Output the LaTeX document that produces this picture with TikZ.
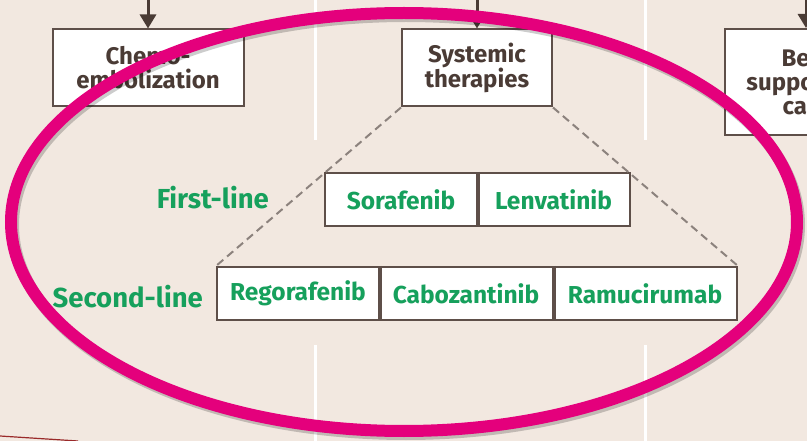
\documentclass[tikz,border=0pt]{standalone}
\usepackage{fontspec}
\setmainfont{Fira Sans}
\usetikzlibrary{arrows.meta}
\definecolor{bgc}{HTML}{F2E8E0}
\definecolor{boxline}{HTML}{5E4F49}
\definecolor{boxtext}{HTML}{4A3B35}
\definecolor{drug}{HTML}{16A05C}
\definecolor{dashc}{HTML}{8C827D}
\definecolor{pinkc}{HTML}{E4007C}
\definecolor{darkred}{HTML}{9A2A2A}
\tikzset{
  mainbox/.style={draw=boxline, line width=2pt, fill=white, inner sep=0pt, align=center,
    text=boxtext, font=\fontsize{24}{24}\selectfont\bfseries},
  drugbox/.style={draw=boxline, line width=2pt, fill=white, inner sep=0pt,
    minimum height=53pt, text=drug, font=\fontsize{24.5}{26}\selectfont\bfseries},
  linelabel/.style={anchor=east, inner sep=0pt, text=drug, font=\fontsize{27.5}{29}\selectfont\bfseries},
  divider/.style={draw=boxline, line width=3.5pt},
  feed/.style={draw=boxtext, line width=3pt, -{Triangle[length=14pt,width=16pt]}},
  dashline/.style={draw=dashc, line width=2pt, dash pattern=on 8pt off 5pt},
  sep/.style={draw=white, line width=3pt},
}
\begin{document}
\begin{tikzpicture}[x=1pt,y=-1pt]
\useasboundingbox (0,0) rectangle (807,441);
\fill[bgc] (0,0) rectangle (807,441);
% column separators
\draw[sep] (315,0) -- (315,140);
\draw[sep] (315,345) -- (315,441);
\draw[sep] (645,0) -- (645,140);
\draw[sep] (645,345) -- (645,441);
\draw[darkred, line width=1.2pt] (0,436) -- (78,441);
% top boxes
\node[mainbox, minimum width=191pt, minimum height=77pt] (chemo) at (148,68) {Chemo-\\embolization};
\node[mainbox, minimum width=150pt, minimum height=77pt] (sys) at (477,68) {Systemic\\therapies};
\node[mainbox, minimum width=162pt, minimum height=106pt] (bsc) at (806,82) {Best\\supportive\\care};
\coordinate (a1) at (148,0);
\coordinate (a2) at (477,0);
\coordinate (a3) at (806,0);
\draw[feed] (a1) -- (chemo.north);
\draw[feed] (a2) -- (sys.north);
\draw[feed] (a3) -- (bsc.north);
% drug boxes
\node[drugbox, minimum width=152pt] (sor) at (401,199.5) {Sorafenib};
\node[drugbox, minimum width=153pt] (len) at (553.5,199.5) {Lenvatinib};
\node[drugbox, minimum width=162pt] (reg) at (298,293.5) {Regorafenib};
\node[drugbox, minimum width=174pt] (cab) at (466,293.5) {Cabozantinib};
\node[drugbox, minimum width=184pt] (ram) at (645,293.5) {Ramucirumab};
\draw[divider] (sor.north east) -- (sor.south east);
\draw[divider] (reg.north east) -- (reg.south east);
\draw[divider] (cab.north east) -- (cab.south east);
% labels
\node[linelabel] (fl) at (269,198) {First-line};
\node[linelabel] (sl) at (203,297) {Second-line};
% dashed fan
\draw[dashline] (sys.south west) -- (reg.north west);
\draw[dashline] (sys.south east) -- (ram.north east);
% pink ellipse with shadow
\draw[black, opacity=0.2, line width=12pt] (406,225) ellipse [x radius=393pt, y radius=209pt];
\draw[pinkc, line width=12pt] (404,222) ellipse [x radius=393pt, y radius=209pt];
\end{tikzpicture}
\end{document}
